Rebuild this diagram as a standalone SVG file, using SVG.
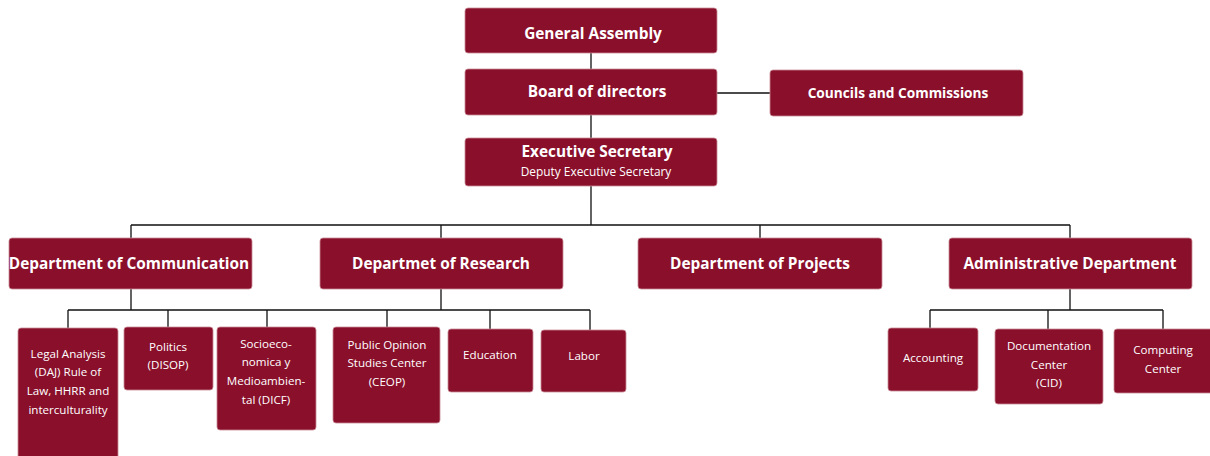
<svg xmlns="http://www.w3.org/2000/svg" width="1210" height="456" viewBox="0 0 1210 456">
<style>
.box{fill:#8a0f2b;stroke:#c98a97;stroke-width:0.8}
.t{font-family:"Open Sans","DejaVu Sans",sans-serif;fill:#fff;text-anchor:middle}
.b{font-weight:700;font-size:15.4px}
.m{font-weight:700;font-size:13.7px}
.s{font-size:11.6px}
.d{font-size:11.9px}
.c{fill:none;stroke:#111;stroke-width:1.3}
</style>
<rect width="1210" height="456" fill="#fff"/>
<g id="connectors">
<path class="c" d="M591 53V69M591 115V138M717 93H770"/>
<path class="c" d="M591 186V225M131 225H1070M131 225V238M441 225V238M760 225V238M1070 225V238"/>
<path class="c" d="M131 289V310M441 289V310M68 310H590M68 310V328M168 310V327M267 310V327M387 310V327M490 310V329M590 310V330"/>
<path class="c" d="M1070 289V310M930 310H1163M930 310V328M1048 310V329M1163 310V329"/>
</g>
<g id="general-assembly"><rect class="box" x="465" y="8" width="252" height="45" rx="3"/><text class="t b" x="593" y="39">General Assembly</text></g>
<g id="board"><rect class="box" x="465" y="69" width="252" height="46" rx="3"/><text class="t b" x="597" y="97">Board of directors</text></g>
<g id="councils"><rect class="box" x="770" y="70" width="253" height="46" rx="3"/><text class="t m" x="898" y="98">Councils and Commissions</text></g>
<g id="executive"><rect class="box" x="465" y="138" width="252" height="48" rx="3"/><text class="t b" x="597" y="157">Executive Secretary</text><text class="t d" x="596" y="176">Deputy Executive Secretary</text></g>
<g id="dept-communication"><rect class="box" x="9" y="238" width="243" height="51" rx="3"/><text class="t b" x="129" y="269">Department of Communication</text></g>
<g id="dept-research"><rect class="box" x="320" y="238" width="243" height="51" rx="3"/><text class="t b" x="441" y="269">Departmet of Research</text></g>
<g id="dept-projects"><rect class="box" x="638" y="238" width="244" height="51" rx="3"/><text class="t b" x="760" y="269">Department of Projects</text></g>
<g id="dept-admin"><rect class="box" x="949" y="238" width="243" height="51" rx="3"/><text class="t b" x="1070" y="269">Administrative Department</text></g>
<g id="legal"><rect class="box" x="18" y="328" width="100" height="140" rx="3"/><text class="t s"><tspan x="68" y="358">Legal Analysis</tspan><tspan x="68" y="376">(DAJ) Rule of</tspan><tspan x="68" y="395">Law, HHRR and</tspan><tspan x="68" y="414">interculturality</tspan></text></g>
<g id="politics"><rect class="box" x="124" y="327" width="89" height="63" rx="3"/><text class="t s"><tspan x="168" y="351">Politics</tspan><tspan x="168" y="369">(DISOP)</tspan></text></g>
<g id="socio"><rect class="box" x="217" y="327" width="99" height="103" rx="3"/><text class="t s"><tspan x="266" y="348">Socioeco-</tspan><tspan x="266" y="366">nomica y</tspan><tspan x="266" y="385">Medioambien-</tspan><tspan x="266" y="404">tal (DICF)</tspan></text></g>
<g id="ceop"><rect class="box" x="333" y="327" width="107" height="96" rx="3"/><text class="t s"><tspan x="387" y="349">Public Opinion</tspan><tspan x="387" y="367">Studies Center</tspan><tspan x="387" y="386">(CEOP)</tspan></text></g>
<g id="education"><rect class="box" x="448" y="329" width="85" height="63" rx="3"/><text class="t s" x="490" y="359">Education</text></g>
<g id="labor"><rect class="box" x="541" y="330" width="85" height="62" rx="3"/><text class="t s" x="584" y="360">Labor</text></g>
<g id="accounting"><rect class="box" x="888" y="328" width="90" height="63" rx="3"/><text class="t s" x="933" y="362">Accounting</text></g>
<g id="documentation"><rect class="box" x="995" y="329" width="108" height="75" rx="3"/><text class="t s"><tspan x="1049" y="350">Documentation</tspan><tspan x="1049" y="369">Center</tspan><tspan x="1049" y="387">(CID)</tspan></text></g>
<g id="computing"><rect class="box" x="1114" y="329" width="100" height="64" rx="3"/><text class="t s"><tspan x="1163" y="354">Computing</tspan><tspan x="1163" y="373">Center</tspan></text></g>
</svg>
